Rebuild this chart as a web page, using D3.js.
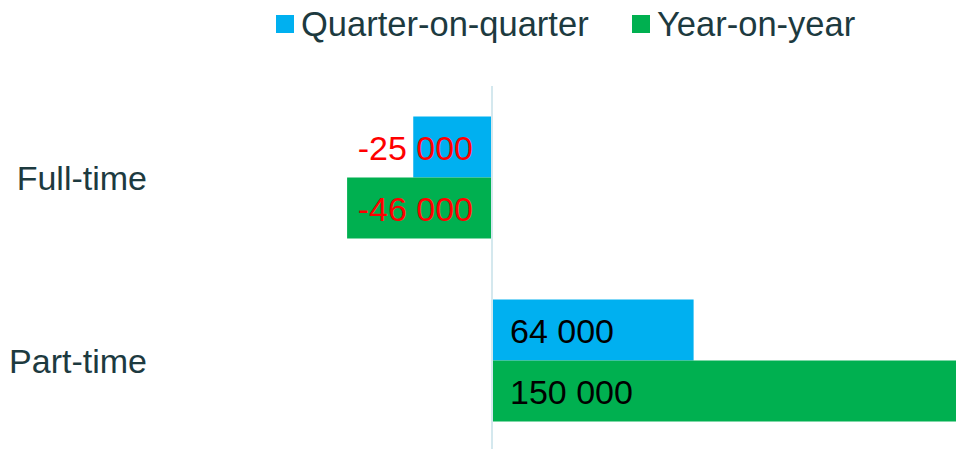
<!DOCTYPE html>
<html>
<head>
<meta charset="utf-8">
<script src="https://cdn.jsdelivr.net/npm/d3@7"></script>
<style>
  html, body { margin: 0; padding: 0; background: #fff; overflow: hidden; }
  text { font-family: "Liberation Sans", Arial, sans-serif; }
</style>
</head>
<body>
<div id="chart"></div>
<script>
const categories = ['Full-time', 'Part-time'];
const seriesNames = ['Quarter-on-quarter', 'Year-on-year'];
const quarterOnQuarter = [-25000, 64000];
const yearOnYear = [-46000, 150000];

const colors = ['#00b0f0', '#00b050'];

const width = 956,
  height = 449;

const svg = d3
  .select('#chart')
  .append('svg')
  .attr('width', width)
  .attr('height', height);

// zero sits at ~492px, roughly 3.15px per 1000
const x = d3.scaleLinear().domain([-50000, 150000]).range([334.5, 964.5]);

const y = d3
  .scaleBand()
  .domain(categories)
  .range([86, 452])
  .paddingInner(1 / 3)
  .paddingOuter(1 / 6);

const ySub = d3
  .scaleBand()
  .domain(seriesNames)
  .range([0, y.bandwidth()]);

const rows = [];
categories.forEach((c, i) => {
  rows.push({ cat: c, series: seriesNames[0], value: quarterOnQuarter[i], k: 0 });
  rows.push({ cat: c, series: seriesNames[1], value: yearOnYear[i], k: 1 });
});

// bars
svg
  .append('g')
  .selectAll('rect')
  .data(rows)
  .join('rect')
  .attr('x', (d) => Math.min(x(d.value), x(0)))
  .attr('y', (d) => y(d.cat) + ySub(d.series))
  .attr('width', (d) => Math.abs(x(d.value) - x(0)))
  .attr('height', ySub.bandwidth())
  .attr('fill', (d) => colors[d.k]);

// zero line
svg
  .append('line')
  .attr('x1', x(0))
  .attr('x2', x(0))
  .attr('y1', 86)
  .attr('y2', height)
  .attr('stroke', '#d4e8ee')
  .attr('stroke-width', 2);

// value labels
const fmt = (v) => d3.format(',')(v).replace(/,/g, ' ').replace('−', '-');
svg
  .append('g')
  .selectAll('text')
  .data(rows)
  .join('text')
  .attr('x', (d) => (d.value < 0 ? x(0) - 19 : x(0) + 18))
  .attr('y', (d) => y(d.cat) + ySub(d.series) + ySub.bandwidth() / 2 + 13)
  .attr('text-anchor', (d) => (d.value < 0 ? 'end' : 'start'))
  .attr('font-size', 34)
  .attr('fill', (d) => (d.value < 0 ? '#ff0000' : '#000000'))
  .text((d) => fmt(d.value));

// category labels
svg
  .append('g')
  .selectAll('text')
  .data(categories)
  .join('text')
  .attr('x', 147)
  .attr('y', (d) => y(d) + y.bandwidth() / 2 + 12)
  .attr('text-anchor', 'end')
  .attr('font-size', 34)
  .attr('fill', '#1d3a3f')
  .text((d) => d);

// legend
const legendX = [276, 632];
const legend = svg
  .append('g')
  .selectAll('g')
  .data(seriesNames)
  .join('g')
  .attr('transform', (d, i) => 'translate(' + legendX[i] + ',15)');

legend
  .append('rect')
  .attr('width', 18)
  .attr('height', 18)
  .attr('fill', (d, i) => colors[i]);

legend
  .append('text')
  .attr('x', 25)
  .attr('y', 21)
  .attr('font-size', 34.5)
  .attr('fill', '#1d3a3f')
  .text((d) => d);
</script>
</body>
</html>
